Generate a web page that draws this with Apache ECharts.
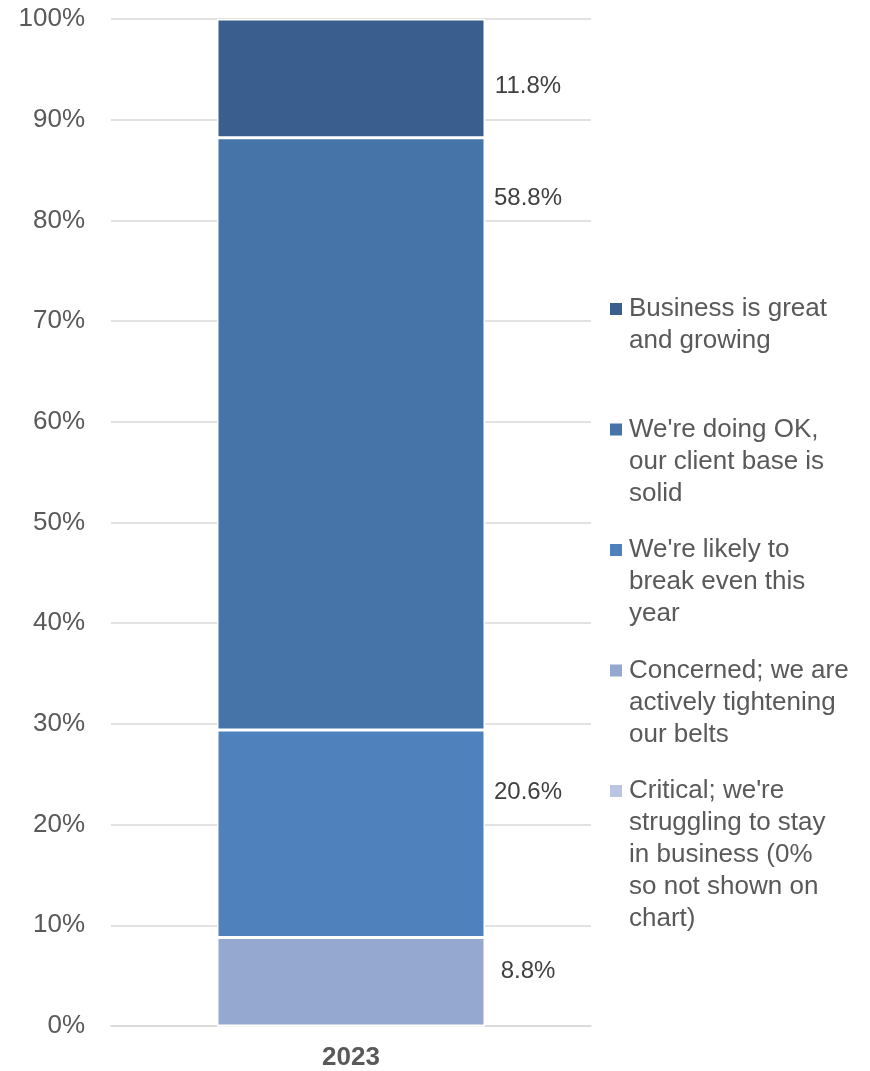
<!DOCTYPE html>
<html>
<head>
<meta charset="utf-8">
<style>
  html, body { margin: 0; padding: 0; background: #ffffff; }
  #chart { width: 870px; height: 1071px; }
</style>
<script src="https://cdn.jsdelivr.net/npm/echarts@6/dist/echarts.min.js"></script>
</head>
<body>
<div id="chart"></div>
<script>
// Survey year on the category axis
const categories = ['2023'];

// Stack order, bottom to top
const seriesNames = [
  'Critical',
  'Concerned',
  'Break even',
  'Doing OK',
  'Great'
];
const seriesValues = [
  [0],
  [8.8],
  [20.6],
  [58.8],
  [11.8]
];
const seriesColors = ['#b9c5e1', '#95a9d0', '#4f81bd', '#4674a8', '#3a5f8e'];

// Legend entries, top to bottom, with their wrapped text
const legendOrder = ['Great', 'Doing OK', 'Break even', 'Concerned', 'Critical'];
const legendText = {
  'Great': 'Business is great\nand growing',
  'Doing OK': "We're doing OK,\nour client base is\nsolid",
  'Break even': "We're likely to\nbreak even this\nyear",
  'Concerned': 'Concerned; we are\nactively tightening\nour belts',
  'Critical': "Critical; we're\nstruggling to stay\nin business (0%\nso not shown on\nchart)"
};

const yTicks = [0, 10, 20, 30, 40, 50, 60, 70, 80, 90, 100];

// Vertical offset of each value label below its segment's top edge
const labelDrop = { 'Concerned': 34, 'Break even': 62, 'Doing OK': 61, 'Great': 67 };

const FONT = '"Liberation Sans", Arial, Helvetica, sans-serif';
const LINE_H = 32;
const MAX_LINES = 5;
const ITEM_H = MAX_LINES * LINE_H;   // every legend entry is this tall
const ICON_W = 14;                   // icon box: 12px square plus 2px gap before the text
const SQ = 12;
const ENTRY_STEP = 120.5;            // distance between the first lines of two entries
const FIRST_ENTRY_Y = 309;

// Legend marker: a square level with the first text line at the top of a tall box.
// A hair-thin dot in the far corner pins the box size so the square is not stretched.
const legendIcon = 'path://M0,' + (LINE_H / 2 - SQ / 2) +
  'h' + SQ + 'v' + SQ + 'h-' + SQ + 'z' +
  'M0,0h0.01v0.01h-0.01z' +
  'M' + (ICON_W - 0.01) + ',' + (ITEM_H - 0.01) + 'h0.01v0.01h-0.01z';

// Pad each entry's text with empty lines so all entries share one height
function paddedText(name) {
  const lines = legendText[name].split('\n');
  while (lines.length < MAX_LINES) lines.push('');
  return lines.join('\n');
}

const legendData = legendOrder.map(function (name) {
  return { name: name, icon: legendIcon };
});

const series = seriesNames.map(function (name, i) {
  return {
    name: name,
    type: 'bar',
    stack: 'total',
    barWidth: 268,
    data: seriesValues[i],
    itemStyle: {
      color: seriesColors[i],
      borderColor: '#ffffff',
      borderWidth: 1.5
    },
    label: {
      show: seriesValues[i][0] > 0,
      position: ['100%', labelDrop[name] || 0],
      offset: [43, 0],
      align: 'center',
      verticalAlign: 'middle',
      formatter: function (p) { return p.value.toFixed(1) + '%'; },
      color: '#404040',
      fontFamily: FONT,
      fontSize: 24
    },
    emphasis: { disabled: true }
  };
});

const chart = echarts.init(document.getElementById('chart'), null, { renderer: 'canvas' });

chart.setOption({
  animation: false,
  backgroundColor: '#ffffff',
  grid: { left: 111, right: 279, top: 19, bottom: 45, containLabel: false },
  legend: {
    orient: 'vertical',
    left: 610,
    top: FIRST_ENTRY_Y - LINE_H / 2,
    padding: 0,
    itemWidth: ICON_W,
    itemHeight: ITEM_H,
    itemGap: ENTRY_STEP - ITEM_H,
    selectedMode: false,
    data: legendData,
    formatter: paddedText,
    itemStyle: { borderWidth: 0 },
    textStyle: {
      color: '#595959',
      fontFamily: FONT,
      fontSize: 26,
      lineHeight: LINE_H
    }
  },
  xAxis: {
    type: 'category',
    data: categories,
    axisLine: { show: true, lineStyle: { color: '#d9d9d9', width: 1.5 } },
    axisTick: { show: false },
    axisLabel: {
      color: '#595959',
      fontFamily: FONT,
      fontSize: 26,
      fontWeight: 'bold',
      margin: 19
    }
  },
  yAxis: {
    type: 'value',
    min: yTicks[0],
    max: yTicks[yTicks.length - 1],
    interval: 10,
    axisLine: { show: false },
    axisTick: { show: false },
    splitLine: { lineStyle: { color: '#d9d9d9', width: 1.5 } },
    axisLabel: {
      color: '#595959',
      fontFamily: FONT,
      fontSize: 26,
      margin: 26,
      formatter: '{value}%'
    }
  },
  series: series
});
</script>
</body>
</html>
